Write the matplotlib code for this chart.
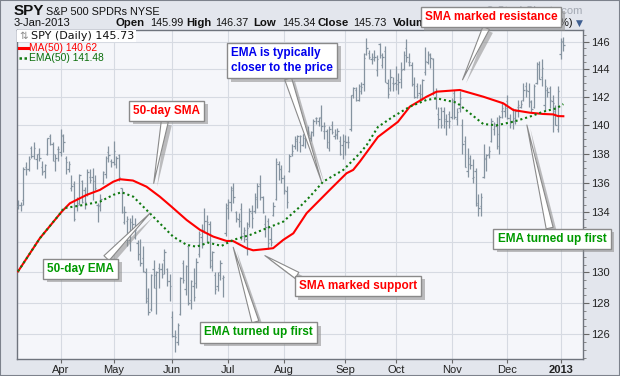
import pandas as pd
import matplotlib
matplotlib.use('Agg')
import matplotlib.pyplot as plt
import matplotlib.patheffects as pe
from matplotlib.lines import Line2D
from matplotlib.patches import Rectangle
from matplotlib.ticker import FixedLocator, FixedFormatter, NullFormatter

# trading days shown on the chart
holidays = ['2012-04-06', '2012-05-28', '2012-07-04', '2012-09-03', '2012-10-29',
            '2012-10-30', '2012-11-22', '2012-12-25', '2013-01-01']
dates = pd.bdate_range('2012-03-09', '2013-01-03')
dates = dates[~dates.isin(pd.to_datetime(holidays))]

opens = [134.4, 134.5, 134.8, 137.1, 136.9, 138.4, 137.8, 137.6, 138.0, 137.1,
         136.8, 138.0, 139.2, 138.7, 137.5, 138.3, 138.1, 139.2, 137.7, 136.9,
         135.6, 135.9, 134.4, 134.6, 136.1, 135.5, 135.2, 136.4, 136.4, 136.1,
         134.5, 134.5, 136.0, 136.6, 138.1, 137.5, 137.4, 137.3, 137.9, 135.6,
         133.3, 133.4, 132.1, 133.3, 132.3, 131.9, 131.2, 130.9, 130.0, 128.3,
         127.6, 130.2, 129.0, 130.3, 130.2, 130.8, 130.2, 129.4, 127.1, 125.9,
         125.5, 127.3, 130.6, 128.9, 131.7, 128.2, 129.1, 129.3, 131.2, 132.3,
         132.8, 133.4, 133.2, 130.8, 129.8, 129.1, 130.0, 129.6, 132.6, 134.3,
         134.7, 135.5, 134.0, 133.5, 134.2, 132.6, 132.2, 133.2, 133.9, 134.1,
         134.9, 135.9, 135.0, 133.2, 133.4, 132.2, 133.8, 134.9, 137.3, 136.9,
         136.3, 135.4, 136.8, 138.0, 138.5, 138.9, 138.8, 138.6, 139.1, 139.6,
         139.1, 139.5, 140.5, 140.3, 140.6, 139.6, 139.6, 138.4, 140.0, 139.2,
         139.4, 138.9, 138.6, 138.9, 138.8, 139.7, 142.1, 142.5, 141.8, 142.8,
         142.9, 145.1, 145.2, 144.7, 144.9, 143.9, 145.8, 144.3, 145.3, 143.0,
         142.6, 143.0, 143.0, 143.2, 143.3, 144.0, 145.5, 144.5, 144.3, 142.9,
         142.8, 142.3, 142.2, 143.8, 144.5, 145.0, 144.7, 142.0, 140.8, 141.2,
         141.0, 140.3, 140.8, 140.6, 142.3, 140.4, 141.2, 140.0, 138.9, 136.8,
         137.7, 136.3, 136.8, 134.6, 134.4, 136.4, 137.6, 138.0, 138.9, 139.7,
         139.9, 138.5, 141.0, 141.0, 141.7, 140.5, 140.3, 140.3, 141.3, 141.3,
         141.8, 142.8, 142.4, 141.7, 141.3, 143.0, 144.4, 143.4, 141.4, 142.5,
         142.6, 141.7, 141.0, 139.7, 145.1, 145.99]
highs = [134.8, 134.7, 137.1, 137.4, 137.8, 138.5, 138.8, 138.0, 138.4, 137.5,
         137.3, 139.1, 139.4, 138.8, 138.0, 138.5, 139.7, 139.4, 137.8, 137.5,
         136.5, 136.1, 135.0, 136.6, 136.2, 135.7, 136.9, 136.9, 137.0, 136.5,
         134.6, 135.2, 136.8, 137.8, 138.5, 137.6, 138.9, 137.8, 138.0, 135.6,
         134.4, 133.7, 133.6, 133.8, 133.6, 132.1, 132.2, 131.7, 130.3, 129.0,
         129.9, 130.8, 130.1, 130.6, 130.6, 131.5, 130.3, 129.9, 127.5, 126.3,
         126.7, 129.7, 130.8, 130.5, 131.7, 129.5, 130.3, 130.9, 132.7, 133.2,
         134.3, 133.8, 133.4, 131.4, 130.0, 130.0, 130.8, 129.8, 134.6, 134.9,
         135.8, 136.0, 134.1, 133.9, 134.6, 133.0, 133.3, 134.3, 134.5, 135.3,
         136.0, 136.5, 135.1, 133.8, 133.6, 133.0, 134.7, 137.7, 137.5, 137.2,
         136.5, 135.8, 138.0, 138.7, 139.2, 139.3, 139.3, 139.4, 139.2, 139.9,
         139.6, 140.4, 140.6, 140.6, 141.4, 140.2, 139.7, 139.9, 140.3, 139.7,
         139.8, 139.2, 139.4, 139.3, 139.2, 142.1, 142.7, 142.7, 142.9, 143.1,
         145.2, 146.3, 145.4, 145.2, 145.4, 145.0, 145.9, 145.2, 145.7, 143.3,
         144.0, 143.4, 144.2, 143.7, 144.5, 145.3, 146.2, 145.2, 144.5, 143.4,
         143.0, 142.9, 143.3, 145.6, 145.3, 145.2, 144.8, 142.6, 141.3, 141.3,
         141.3, 140.8, 141.0, 141.9, 142.5, 141.2, 142.4, 140.4, 139.2, 138.4,
         137.9, 137.6, 137.0, 135.2, 135.3, 138.7, 138.0, 138.5, 140.5, 140.2,
         140.6, 140.7, 141.6, 141.4, 142.1, 140.8, 141.2, 141.1, 141.8, 141.8,
         143.0, 143.1, 143.0, 141.8, 142.9, 144.5, 144.6, 144.7, 143.3, 142.7,
         142.8, 142.1, 141.4, 142.8, 146.3, 146.37]
lows = [134.2, 134.1, 134.5, 136.5, 136.8, 137.7, 137.6, 136.9, 137.5, 136.5,
        136.3, 137.9, 138.6, 137.5, 136.8, 137.5, 137.8, 138.1, 136.6, 136.7,
        135.4, 133.4, 134.1, 134.5, 134.6, 134.2, 135.1, 136.0, 134.8, 135.5,
        133.3, 134.1, 135.9, 136.3, 137.4, 137.1, 137.2, 137.0, 136.1, 133.9,
        133.2, 131.7, 131.4, 132.7, 132.2, 130.8, 130.4, 130.0, 128.0, 127.2,
        127.5, 129.0, 127.3, 129.0, 129.6, 129.9, 129.1, 128.1, 125.8, 124.9,
        125.3, 127.2, 129.3, 128.5, 127.9, 127.6, 128.1, 129.0, 131.0, 131.6,
        132.6, 132.0, 130.3, 130.1, 128.6, 128.8, 129.5, 128.4, 132.4, 133.5,
        134.1, 134.6, 133.3, 133.0, 132.1, 132.0, 131.1, 133.0, 132.9, 133.9,
        134.3, 134.8, 133.9, 132.3, 131.5, 131.7, 133.7, 134.8, 136.2, 136.0,
        135.2, 134.3, 136.7, 137.8, 138.3, 138.2, 138.1, 138.5, 138.4, 138.7,
        138.9, 139.2, 140.1, 139.9, 139.6, 139.0, 138.4, 138.2, 139.4, 139.0,
        139.0, 137.9, 137.6, 137.9, 138.4, 139.6, 141.9, 141.7, 141.7, 142.2,
        142.4, 145.0, 144.7, 144.4, 144.6, 143.5, 144.8, 144.1, 143.1, 141.9,
        142.4, 142.4, 142.5, 142.2, 142.6, 143.9, 144.5, 144.2, 142.8, 141.9,
        141.9, 141.7, 141.8, 143.6, 144.4, 144.1, 142.1, 141.1, 139.8, 139.8,
        139.8, 139.3, 139.8, 140.4, 140.4, 140.0, 140.9, 138.0, 137.1, 136.4,
        136.9, 136.0, 134.4, 133.7, 133.7, 136.3, 136.8, 137.7, 138.8, 139.3,
        138.3, 138.0, 140.5, 140.6, 140.4, 139.8, 139.7, 140.1, 140.6, 141.2,
        141.7, 142.0, 141.3, 140.9, 141.2, 142.9, 143.3, 142.8, 141.0, 142.0,
        141.2, 139.5, 140.0, 139.5, 144.7, 145.34]
closes = [134.5, 134.5, 136.9, 136.9, 137.6, 137.8, 138.4, 138.0, 137.7, 136.7,
          137.2, 139.1, 138.7, 138.0, 137.7, 138.3, 139.3, 138.8, 137.4, 137.3,
          135.8, 133.5, 134.5, 136.5, 134.7, 134.7, 136.7, 136.2, 135.4, 135.6,
          134.4, 134.9, 136.7, 137.7, 137.9, 137.4, 138.2, 137.7, 136.4, 134.0,
          134.0, 133.5, 132.7, 133.2, 132.8, 131.2, 130.6, 130.1, 128.1, 127.4,
          129.8, 129.8, 130.0, 130.2, 129.9, 131.3, 129.4, 129.1, 125.9, 125.8,
          126.6, 129.6, 129.5, 130.4, 128.0, 129.4, 128.4, 130.7, 132.5, 132.8,
          133.4, 133.3, 130.4, 131.3, 128.9, 129.8, 130.6, 129.7, 134.5, 134.7,
          135.6, 135.0, 133.6, 133.4, 132.4, 132.8, 132.9, 134.1, 133.6, 135.0,
          135.8, 135.0, 134.0, 133.0, 131.9, 132.0, 134.4, 137.4, 136.9, 136.3,
          135.5, 134.7, 137.8, 138.2, 139.0, 139.2, 139.2, 139.4, 139.2, 139.3,
          139.5, 140.3, 140.5, 140.5, 139.9, 139.9, 138.8, 139.7, 139.5, 139.3,
          139.6, 138.0, 138.9, 138.8, 138.8, 142.1, 142.6, 141.8, 142.4, 142.7,
          144.8, 145.5, 144.9, 144.7, 144.9, 144.7, 145.0, 144.9, 143.1, 142.2,
          143.4, 142.9, 142.9, 143.1, 143.9, 145.0, 144.9, 144.5, 142.9, 142.0,
          142.1, 141.9, 143.2, 144.6, 145.1, 144.8, 142.4, 142.4, 140.4, 140.0,
          140.4, 140.3, 140.3, 141.8, 140.6, 140.9, 141.9, 138.7, 137.1, 137.3,
          137.2, 136.4, 134.5, 134.3, 135.0, 137.7, 137.9, 138.2, 140.3, 140.1,
          139.4, 140.6, 141.2, 141.2, 140.5, 140.3, 140.5, 141.0, 141.4, 141.5,
          142.5, 142.5, 141.6, 141.1, 142.8, 144.4, 143.3, 144.1, 142.8, 142.35,
          141.75, 141.56, 140.03, 142.41, 146.06, 145.73]

# moving averages (bar index, value)
sma_idx = [0, 8.2, 16.4, 19.5, 25.8, 30.8, 35.8, 38.3, 43.2, 48.3, 53.3, 57.7, 63.4, 68.4,
           73.4, 78.4, 80.8, 85.9, 88.4, 93.5, 95.9, 99.7, 103.5, 108.5, 117.2, 123.5, 126.0,
           128.5, 135.3, 142.8, 147.3, 153.6, 157.4, 166.1, 174.9, 182.4, 186.2, 192.4, 197.4,
           201.2, 203.0, 205]
sma_val = [130.05, 132.24, 134.02, 134.59, 135.16, 135.50, 136.06, 136.23, 136.14, 135.72,
           135.04, 134.36, 133.46, 132.80, 132.35, 132.06, 132.06, 131.58, 131.44, 131.53,
           131.58, 132.13, 132.57, 133.92, 135.50, 136.64, 136.87, 137.44, 139.16, 140.22,
           141.30, 142.01, 142.37, 142.49, 142.01, 141.54, 141.06, 140.87, 140.78, 140.75,
           140.63, 140.62]
ema_idx = [0, 8.2, 16.4, 17.0, 24.5, 30.8, 35.8, 38.9, 43.3, 48.3, 53.3, 58.3, 63.4, 67.1,
           71.5, 76.5, 80.9, 87.2, 93.5, 99.7, 106.0, 109.7, 114.7, 122.3, 128.5, 131.1, 135.3,
           141.0, 147.3, 153.6, 157.4, 164.9, 169.9, 174.9, 179.9, 186.2, 192.4, 197.4, 202.4, 205]
ema_val = [130.05, 132.24, 134.02, 134.25, 134.47, 134.70, 135.16, 135.34, 135.04, 134.14,
           133.24, 132.35, 131.80, 131.68, 131.95, 131.73, 132.13, 132.46, 132.91, 133.35,
           134.36, 135.04, 136.06, 136.87, 138.02, 138.60, 139.86, 140.59, 141.30, 141.78,
           141.89, 141.59, 140.83, 140.07, 139.98, 140.23, 140.59, 140.94, 141.18, 141.48]

yticks = [126, 128, 130, 132, 134, 136, 138, 140, 142, 144, 146]

W, H = 620, 376
BAR = '#8593a0'


def px(x, y):
    return x / W, 1 - y / H


fig = plt.figure(figsize=(6.2, 3.76), dpi=100, facecolor='#e3e6ed')
ax = fig.add_axes([16.7 / W, 1 - 359 / H, (583 - 16.7) / W, (359 - 30) / H])
ax.set_facecolor('#f5f6fa')
ax.set_yscale('log')
ax.set_ylim(124.44, 146.86)
ax.set_xlim(-0.5, 212.4)

x = list(range(len(dates)))
ax.vlines(x, lows, highs, color=BAR, lw=0.9, zorder=3)
ax.hlines(opens, [i - 0.5 for i in x], x, color=BAR, lw=0.9, zorder=3)
ax.hlines(closes, x, [i + 0.5 for i in x], color=BAR, lw=0.9, zorder=3)

ax.plot(sma_idx, sma_val, color='#ff0000', lw=1.5, zorder=4)
ax.plot(ema_idx, ema_val, color='#107a10', lw=1.5, linestyle=(0, (1, 1.4)), zorder=5)

# axes, ticks, grid
ax.yaxis.tick_right()
ax.yaxis.set_major_locator(FixedLocator(yticks))
ax.yaxis.set_major_formatter(FixedFormatter([str(v) for v in yticks]))
minor = [v / 2 for v in range(249, 294) if v % 4 != 0]
ax.yaxis.set_minor_locator(FixedLocator(minor))
ax.yaxis.set_minor_formatter(NullFormatter())
ax.tick_params(axis='y', which='major', length=4, width=0.8, color='#666',
               labelsize=8, labelcolor='#222', pad=2)
ax.tick_params(axis='y', which='minor', length=2, width=0.6, color='#777')

month_idx = [i for i in range(1, len(dates)) if dates[i].month != dates[i - 1].month]
month_lab = ['2013' if dates[i].month == 1 else dates[i].strftime('%b') for i in month_idx]
ax.set_xticks(month_idx)
ax.set_xticklabels(month_lab)
ax.tick_params(axis='x', length=3, width=0.8, color='#666', labelsize=8,
               labelcolor='#222', pad=1.5)
for t in ax.get_xticklabels():
    t.set_family('Liberation Sans')
    if t.get_text() == '2013':
        t.set_fontweight('bold')
for t in ax.get_yticklabels():
    t.set_family('Liberation Sans')

ax.grid(True, which='major', color='#d6dae2', lw=0.8, zorder=0)
ax.set_axisbelow(True)
for s in ax.spines.values():
    s.set_color('#6f747d')
    s.set_linewidth(1)

# header
hdr = dict(family='Liberation Sans', va='center', zorder=-1, color='#111')
fig.text(*px(14, 11), 'SPY', fontsize=11, fontweight='bold', **hdr)
fig.text(*px(46, 12), 'S&P 500 SPDRs NYSE', fontsize=7.8, **hdr)
fig.text(*px(14, 23), '3-Jan-2013', fontsize=8, **hdr)
row = [(116, 'Open', True), (150, '145.99', False), (186, 'High', True),
       (215, '146.37', False), (253, 'Low', True), (282, '145.34', False),
       (318, 'Close', True), (353, '145.73', False), (393, 'Volume', True)]
for xp, s, b in row:
    fig.text(*px(xp, 23), s, fontsize=8.2 if b else 7.8,
             fontweight='bold' if b else 'normal', **hdr)
fig.text(*px(573, 23), 'Chg -0.33 (-0.23%)', fontsize=7.8, ha='right', **hdr)
fig.text(*px(579, 23), '\u25bc', fontsize=6.5, color='#3f5f91', ha='center', va='center',
         zorder=-1)
fig.text(*px(582, 10.5), '\u00a9 StockCharts.com', fontsize=8, ha='right', va='center',
         color='#a3a8b2', family='Liberation Sans', zorder=-1)

# legend
fig.add_artist(Rectangle(px(17, 42), 119 / W, 11.5 / H, transform=fig.transFigure,
                         fc='white', ec='none', zorder=5.5))
fig.text(*px(19, 36), '\u21c5', color='#8a8a8a', family='DejaVu Sans', fontsize=7.5,
         va='center', zorder=6)
fig.text(*px(31, 36), 'SPY (Daily) 145.73', color='#111', family='DejaVu Sans',
         fontsize=8, va='center', zorder=6)
leg = dict(family='Liberation Sans', fontsize=7.4, va='center', zorder=6)
fig.add_artist(Line2D([19 / W, 28 / W], [1 - 48 / H] * 2, color='#ff0000', lw=2.2, zorder=6))
fig.text(*px(29, 48), 'MA(50) 140.62', color='#ff0000', **leg)
fig.add_artist(Line2D([19 / W, 28 / W], [1 - 58 / H] * 2, color='#107a10', lw=1.8,
                      linestyle=(0, (1, 1)), zorder=6))
fig.text(*px(29, 58), 'EMA(50) 141.48', color='#0b6e0b', **leg)

# callouts
shadow = [pe.SimplePatchShadow(offset=(2.5, -2.5), shadow_rgbFace='#8c8c8c', alpha=0.55),
          pe.Normal()]


def callout(text, tip, center, color, relpos=(0.5, 0.5)):
    ax.annotate(text, xy=tip, xycoords='data', xytext=(center[0], H - center[1]),
                textcoords='figure pixels', ha='center', va='center', fontsize=8.5,
                fontweight='bold', color=color, family='Liberation Sans',
                multialignment='left', linespacing=1.35, zorder=20, annotation_clip=False,
                bbox=dict(boxstyle='square,pad=0.35', fc='white', ec='#8a8a8a', lw=1,
                          path_effects=shadow),
                arrowprops=dict(arrowstyle='wedge,tail_width=0.6,shrink_factor=0.5',
                                fc='white', ec='#8a8a8a', lw=0.8, relpos=relpos,
                                shrinkA=0, shrinkB=0, path_effects=shadow))


callout('50-day SMA', (51.0, 135.95), (166.7, 110.7), '#ff0000')
callout('50-day EMA', (49.6, 133.92), (80.8, 268.8), '#009a00', relpos=(0.8, 0.9))
callout('EMA is typically\ncloser to the price', (114.1, 136.06), (282.2, 60.5), '#0000ee')
callout('SMA marked resistance', (167.1, 143.22), (491.0, 17.3), '#ff0000')
callout('SMA marked support', (92.8, 131.09), (358.0, 286.0), '#ff0000', relpos=(0.08, 0.8))
callout('EMA turned up first', (80.9, 131.64), (258.6, 332.5), '#009a00')
callout('EMA turned up first', (191.3, 140.0), (552.0, 238.7), '#009a00')

fig.add_artist(Rectangle((0, 0), 1, 1, transform=fig.transFigure, fill=False,
                         ec='#7d828c', lw=1.5, zorder=30))

fig.savefig('out.png', dpi=100, facecolor=fig.get_facecolor())
